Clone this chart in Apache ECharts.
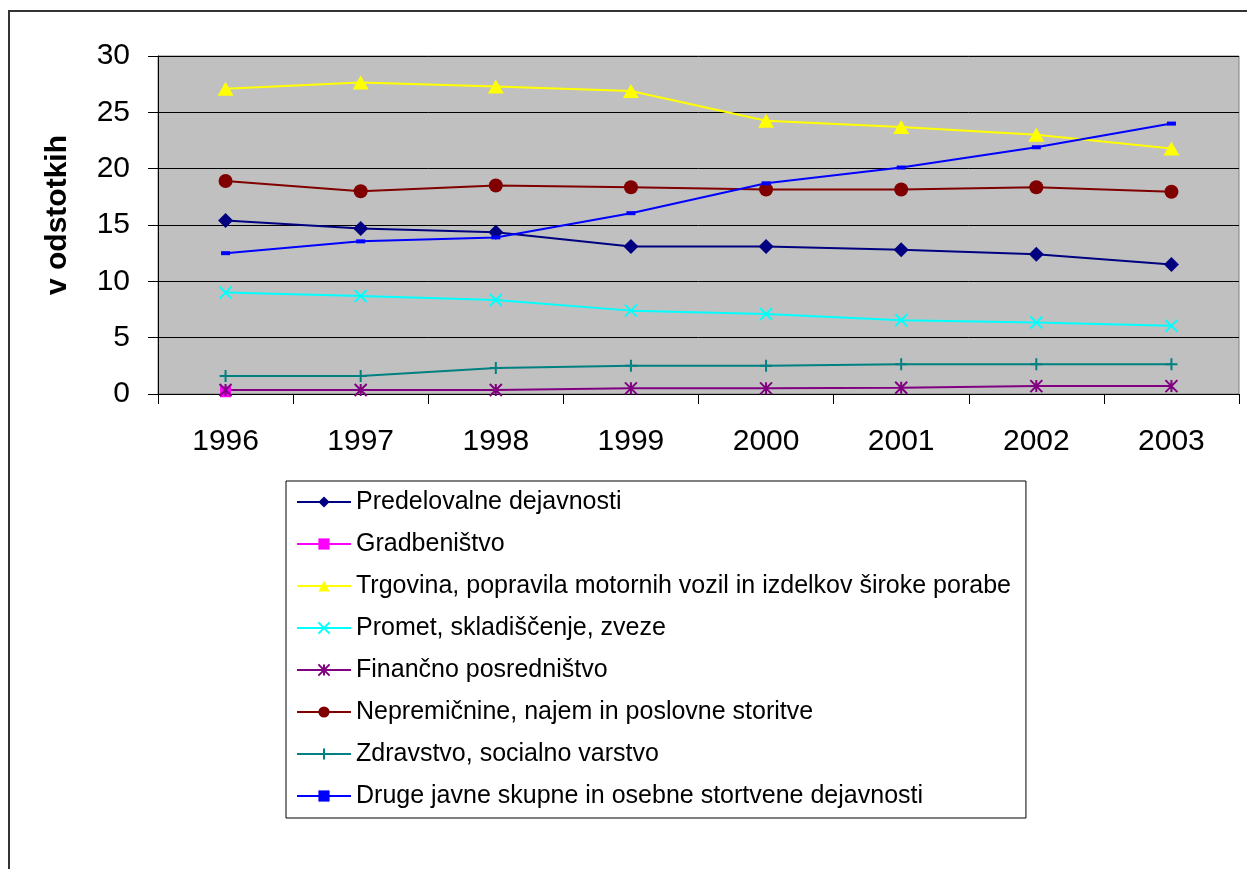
<!DOCTYPE html>
<html>
<head>
<meta charset="utf-8">
<script src="https://cdn.jsdelivr.net/npm/echarts@6/dist/echarts.min.js"></script>
<style>
	html, body { margin: 0; padding: 0; background: #fff; }
	#chart { width: 1247px; height: 869px; }
</style>
</head>
<body>
<div id="chart"></div>
<script>
// 数据
var years = ['1996', '1997', '1998', '1999', '2000', '2001', '2002', '2003'];
var yTicks = [0, 5, 10, 15, 20, 25, 30];
var predelovalne = [15.4, 14.7, 14.35, 13.1, 13.1, 12.8, 12.4, 11.5];
var gradbenistvo = [0.2, null, null, null, null, null, null, null];
var trgovina = [27.1, 27.65, 27.3, 26.9, 24.25, 23.7, 23.0, 21.8];
var promet = [9.0, 8.7, 8.35, 7.4, 7.1, 6.55, 6.35, 6.05];
var financno = [0.35, 0.35, 0.35, 0.5, 0.5, 0.55, 0.7, 0.7];
var nepremicnine = [18.9, 18.0, 18.5, 18.35, 18.15, 18.15, 18.35, 17.95];
var zdravstvo = [1.6, 1.6, 2.3, 2.5, 2.5, 2.65, 2.65, 2.65];
var druge = [12.5, 13.55, 13.9, 16.05, 18.7, 20.1, 21.9, 24.0];

var font = 'Liberation Sans, Arial, sans-serif';
var crossPath = 'path://M0,0L10,10M10,0L0,10';
var starPath = 'path://M0,0L10,10M10,0L0,10M5,0L5,10';
var plusPath = 'path://M5,0L5,10M0,5L10,5';

(function () {
	var myChart = echarts.init(document.getElementById('chart'));

	function line(name, data, color, symbol, size, stroke) {
		var s = {
			name: name,
			type: 'line',
			data: data,
			symbol: symbol,
			symbolSize: size,
			showAllSymbol: true,
			connectNulls: false,
			lineStyle: { color: color, width: 2 },
			itemStyle: { color: color },
			emphasis: { disabled: true }
		};
		if (stroke) {
			s.itemStyle = { color: color, borderColor: color, borderWidth: 2 };
		}
		return s;
	}

	var option = {
		animation: false,
		textStyle: { fontFamily: font },
		// 外框
		graphic: [{
			type: 'rect',
			shape: { x: 9, y: 11, width: 1400, height: 1000 },
			style: { fill: 'none', stroke: '#333', lineWidth: 2 },
			silent: true
		}],
		grid: {
			left: 158,
			top: 56,
			right: 8,
			bottom: 475,
			show: true,
			backgroundColor: '#C0C0C0',
			borderColor: '#808080',
			borderWidth: 1
		},
		legend: {
			orient: 'vertical',
			left: 286,
			top: 481,
			padding: [7, 15, 8, 10],
			borderColor: '#000',
			borderWidth: 1,
			itemWidth: 54,
			itemHeight: 14,
			itemGap: 14,
			textStyle: { fontSize: 25, color: '#000', fontFamily: font, lineHeight: 28 }
		},
		xAxis: {
			type: 'category',
			data: years,
			axisLine: { lineStyle: { color: '#000', width: 1 } },
			axisTick: { show: true, length: 10, lineStyle: { color: '#000' } },
			axisLabel: { fontSize: 30, color: '#000', margin: 33 }
		},
		yAxis: {
			type: 'value',
			min: yTicks[0],
			max: yTicks[yTicks.length - 1],
			interval: 5,
			name: 'v odstotkih',
			nameLocation: 'middle',
			nameRotate: 90,
			nameGap: 85,
			nameTextStyle: { fontSize: 30, fontWeight: 'bold', color: '#000', padding: [0, 0, 0, 20] },
			axisLine: { show: true, lineStyle: { color: '#000', width: 1 } },
			axisTick: { show: true, length: 10, lineStyle: { color: '#000' } },
			axisLabel: { fontSize: 30, color: '#000', margin: 28 },
			splitLine: { lineStyle: { color: '#000', width: 1 } }
		},
		series: [
			line('Predelovalne dejavnosti', predelovalne, '#000080', 'diamond', 15),
			line('Gradbeništvo', gradbenistvo, '#FF00FF', 'rect', 11),
			line('Trgovina, popravila motornih vozil in izdelkov široke porabe', trgovina, '#FFFF00', 'triangle', [16, 14]),
			line('Promet, skladiščenje, zveze', promet, '#00FFFF', crossPath, 12, true),
			line('Finančno posredništvo', financno, '#800080', starPath, 12, true),
			line('Nepremičnine, najem in poslovne storitve', nepremicnine, '#800000', 'circle', 14),
			line('Zdravstvo, socialno varstvo', zdravstvo, '#008080', plusPath, 12, true),
			line('Druge javne skupne in osebne stortvene dejavnosti', druge, '#0000FF', 'rect', [9, 4])
		]
	};
	myChart.setOption(option);
})();
</script>
</body>
</html>
